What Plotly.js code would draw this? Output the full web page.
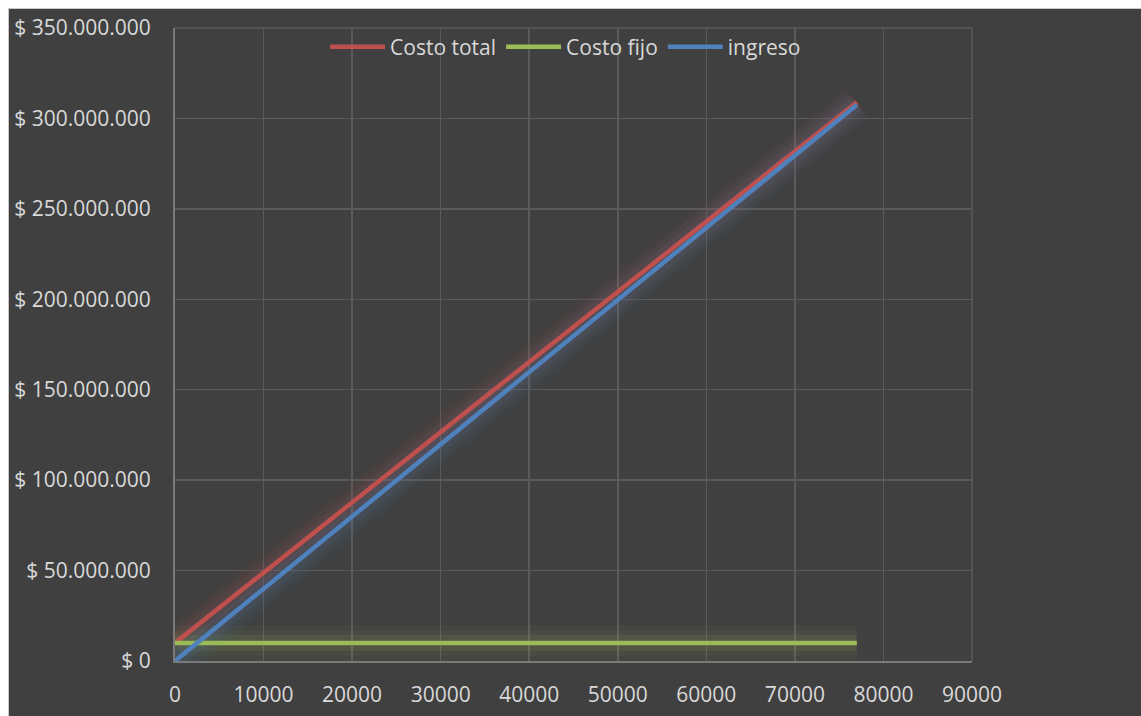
<!DOCTYPE html>
<html>
<head>
<meta charset="utf-8">
<script src="https://cdn.plot.ly/plotly-3.0.1.min.js"></script>
<style>
  html, body { margin: 0; padding: 0; background: #ffffff; width: 1141px; height: 716px; overflow: hidden; }
  #frame { position: absolute; left: 8px; top: 8px; width: 1133px; height: 708px; border-top: 1px solid #c8c8c8; border-left: 1px solid #c8c8c8; background: #404040; }
  #chart { position: absolute; left: 0; top: 0; width: 1133px; height: 708px; }
</style>
</head>
<body>
<div id="frame"><div id="chart"></div></div>
<script>
// Data
const unidades = [0, 77000];
const costoTotal = [10000000, 309000000];
const costoFijo = [10000000, 10000000];
const ingreso = [0, 307500000];

const seriesNames = ['Costo total', 'Costo fijo', 'ingreso'];
const seriesValues = [costoTotal, costoFijo, ingreso];
const seriesColors = ['#c0504d', '#9bbb59', '#4f81bd'];
const glowColors = ['192,80,77', '155,187,89', '79,129,189'];

const xTicks = [0, 10000, 20000, 30000, 40000, 50000, 60000, 70000, 80000, 90000];
const xTickLabels = ['0', '10000', '20000', '30000', '40000', '50000', '60000', '70000', '80000', '90000'];
const yTicks = [0, 50000000, 100000000, 150000000, 200000000, 250000000, 300000000, 350000000];
const yTickLabels = ['$ 0', '$ 50.000.000', '$ 100.000.000', '$ 150.000.000', '$ 200.000.000', '$ 250.000.000', '$ 300.000.000', '$ 350.000.000'];

const traces = [];
// soft glow underlays
seriesValues.forEach((vals, i) => {
  [[36, 0.045], [26, 0.06], [16, 0.09]].forEach(([w, a]) => {
    traces.push({
      x: unidades, y: vals, type: 'scatter', mode: 'lines',
      line: { color: 'rgba(' + glowColors[i] + ',' + a + ')', width: w },
      showlegend: false, hoverinfo: 'skip'
    });
  });
});
// main lines
seriesValues.forEach((vals, i) => {
  traces.push({
    x: unidades, y: vals, type: 'scatter', mode: 'lines', name: seriesNames[i],
    line: { color: seriesColors[i], width: 4.5 }
  });
});

const fontFam = '"Open Sans", "Noto Sans", sans-serif';
const layout = {
  width: 1133, height: 708,
  paper_bgcolor: '#404040', plot_bgcolor: '#404040',
  margin: { l: 166, r: 170, t: 19, b: 56 },
  font: { family: fontFam, size: 21, color: '#d9d9d9' },
  showlegend: true,
  legend: {
    orientation: 'h', x: 0.49, xanchor: 'center', y: 0.97, yanchor: 'middle',
    bgcolor: 'rgba(0,0,0,0)', font: { family: fontFam, size: 21, color: '#d9d9d9' },
    traceorder: 'normal', itemwidth: 55
  },
  xaxis: {
    range: [0, 90000], tickmode: 'array', tickvals: xTicks, ticktext: xTickLabels,
    showgrid: true, gridcolor: '#5a5a5a', gridwidth: 1.5,
    zeroline: false, showline: true, linecolor: '#7a7a7a', linewidth: 2,
    ticks: '', ticklabelstandoff: 14,
    tickfont: { family: fontFam, size: 21, color: '#d9d9d9' }
  },
  yaxis: {
    range: [0, 350000000], tickmode: 'array', tickvals: yTicks, ticktext: yTickLabels,
    showgrid: true, gridcolor: '#5a5a5a', gridwidth: 1.5,
    zeroline: false, showline: true, linecolor: '#7a7a7a', linewidth: 2,
    ticks: '', ticklabelstandoff: 18,
    tickfont: { family: fontFam, size: 21, color: '#d9d9d9' }
  },
  shapes: [
    { type: 'line', xref: 'paper', yref: 'paper', x0: 1, x1: 1, y0: 0, y1: 1, line: { color: '#5a5a5a', width: 1.5 } },
    { type: 'line', xref: 'paper', yref: 'paper', x0: 0, x1: 1, y0: 1, y1: 1, line: { color: '#5a5a5a', width: 1.5 } }
  ]
};

Plotly.newPlot('chart', traces, layout, { displayModeBar: false, staticPlot: true });
</script>
</body>
</html>
